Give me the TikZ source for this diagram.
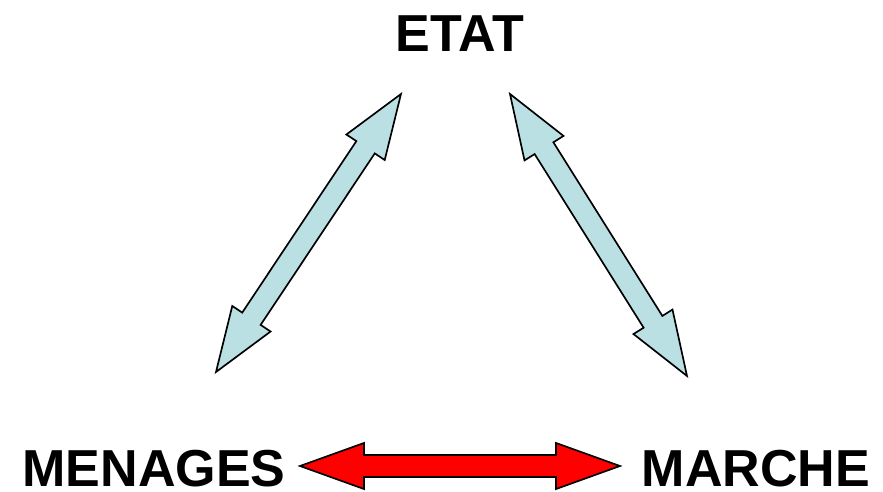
\documentclass[tikz,border=0pt]{standalone}
\usepackage{fontspec}
\setmainfont{Liberation Sans}
\usetikzlibrary{calc}

\definecolor{lightblue}{RGB}{187,224,228}

% block arrow with two heads, from tip #1 to tip #2
\newcommand{\twoheads}[3]{%
    \path[#3] let \p1 = ($(#2)-(#1)$), \n1 = {atan2(\y1,\x1)}, \n2 = {veclen(\x1,\y1)} in
        [shift={(#1)}, rotate=\n1]
        (0,0) -- (36.4pt,13.1pt) -- (36.4pt,6.3pt) -- ({\n2-36.4pt},6.3pt) -- ({\n2-36.4pt},13.1pt)
        -- (\n2,0) -- ({\n2-36.4pt},-13.1pt) -- ({\n2-36.4pt},-6.3pt) -- (36.4pt,-6.3pt)
        -- (36.4pt,-13.1pt) -- cycle;
}

\begin{document}
\begin{tikzpicture}
    \tikzset{
        actor/.style = {
            font = \fontsize{29.6}{36}\selectfont\bfseries,
            inner sep = 0pt,
            text depth = 0pt,
            anchor = base
        },
        blue arrow/.style = {
            draw = black,
            line width = 0.95pt,
            fill = lightblue
        },
        red arrow/.style = {
            draw = black,
            line width = 0.95pt,
            fill = red
        }
    }

    \useasboundingbox (0, 0) rectangle (17.66, 9.84);

    \node[actor] (etat)    at (9.2, 8.8)    {ETAT};
    \node[actor] (menages) at (3.08, 0.12)  {MENAGES};
    \node[actor] (marche)  at (15.12, 0.12) {MARCHE};

    \coordinate (menagesUp)  at (4.32, 2.40);
    \coordinate (etatLeft)   at (8.02, 7.96);
    \coordinate (etatRight)  at (10.2, 7.96);
    \coordinate (marcheUp)   at (13.74, 2.32);
    \coordinate (menagesEnd) at (6.0, 0.52);
    \coordinate (marcheEnd)  at (12.4, 0.52);

    \twoheads{menagesUp}{etatLeft}{blue arrow}
    \twoheads{etatRight}{marcheUp}{blue arrow}
    \twoheads{menagesEnd}{marcheEnd}{red arrow}

\end{tikzpicture}
\end{document}
